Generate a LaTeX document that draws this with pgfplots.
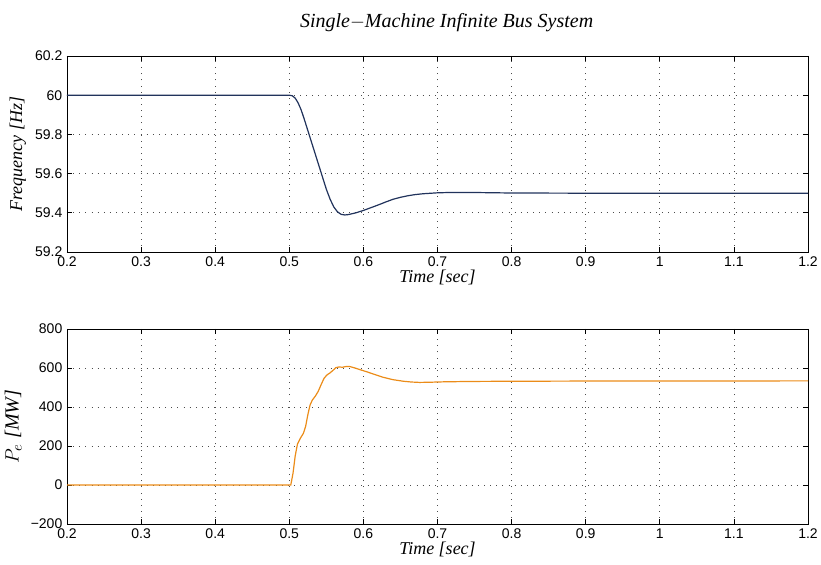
\documentclass[border=0pt]{standalone}
\usepackage{pgfplots}
\pgfplotsset{compat=1.18}
\usepackage{fontspec}
\setmainfont{Liberation Serif}
\newfontfamily\ticksfont{Liberation Sans}

\definecolor{freqcol}{rgb}{0.13,0.20,0.36}
\definecolor{powcol}{rgb}{0.92,0.55,0.10}

\pgfplotstableread{
t f
0.200 60.000
0.300 60.000
0.400 60.000
0.500 60.000
0.504 59.997
0.508 59.985
0.512 59.960
0.516 59.925
0.520 59.880
0.525 59.820
0.530 59.760
0.535 59.700
0.540 59.640
0.545 59.580
0.550 59.520
0.555 59.470
0.560 59.430
0.565 59.405
0.570 59.392
0.575 59.389
0.580 59.391
0.590 59.400
0.600 59.412
0.610 59.426
0.620 59.440
0.630 59.455
0.640 59.469
0.650 59.479
0.660 59.487
0.670 59.493
0.680 59.497
0.700 59.502
0.720 59.504
0.740 59.504
0.760 59.503
0.800 59.501
0.900 59.500
1.000 59.500
1.200 59.500
}\freqdata

\pgfplotstableread{
t p
0.200 0
0.400 0
0.502 0
0.505 60
0.508 150
0.511 210
0.515 240
0.519 265
0.522 300
0.525 360
0.528 410
0.531 435
0.535 455
0.539 480
0.543 515
0.547 548
0.551 565
0.555 575
0.559 588
0.563 602
0.567 605
0.572 604
0.577 608
0.581 608
0.586 603
0.595 592
0.605 580
0.615 567
0.627 552
0.640 540
0.654 532
0.665 528
0.676 526
0.690 527
0.708 529
0.744 531
0.800 532
0.900 533
1.000 533
1.200 534
}\powdata

\pgfplotsset{
  matlab/.style={
    scale only axis,
    width=555.75pt,
    xmin=0.2, xmax=1.2,
    xtick={0.2,0.3,...,1.2},
    xticklabels={0.2,0.3,0.4,0.5,0.6,0.7,0.8,0.9,1,1.1,1.2},
    tick align=inside,
    tick pos=both,
    major tick length=4pt,
    tick style={black, line width=0.5pt},
    axis line style={line width=0.7pt},
    grid=major,
    major grid style={black!70, line width=0.5pt, dash pattern=on 0.6pt off 4pt},
    ticklabel style={font=\ticksfont\fontsize{10.5}{12}\selectfont},
    /pgf/number format/assume math mode=true,
    label style={font=\itshape\fontsize{13.5}{15}\selectfont},
    xlabel={Time [sec]},
  }
}

\begin{document}
\begin{tikzpicture}
\useasboundingbox (0,0) rectangle (615.75pt,423pt);

% figure title
\node[font=\itshape\fontsize{15}{17}\selectfont] at (335pt,406pt) {Single$-$Machine Infinite Bus System};

% generator frequency
\begin{axis}[matlab,
  at={(50.25pt,234pt)}, anchor=south west,
  height=147pt,
  ymin=59.2, ymax=60.2,
  ytick={59.2,59.4,...,60.2},
  yticklabels={59.2,59.4,59.6,59.8,60,60.2},
  ylabel={Frequency [Hz]},
  xlabel style={yshift=4pt},
]
\addplot[freqcol, line width=0.9pt] table[x=t, y=f] {\freqdata};
\end{axis}

% electrical power output
\begin{axis}[matlab,
  at={(50.25pt,30pt)}, anchor=south west,
  height=146.25pt,
  ymin=-200, ymax=800,
  ytick={-200,0,200,400,600,800},
  yticklabels={−200,0,200,400,600,800},
  ylabel={$P_e$ [MW]},
  ylabel style={font=\itshape\fontsize{15}{17}\selectfont},
  xlabel style={yshift=4pt},
]
\addplot[powcol, line width=0.9pt] table[x=t, y=p] {\powdata};
\end{axis}
\end{tikzpicture}
\end{document}
